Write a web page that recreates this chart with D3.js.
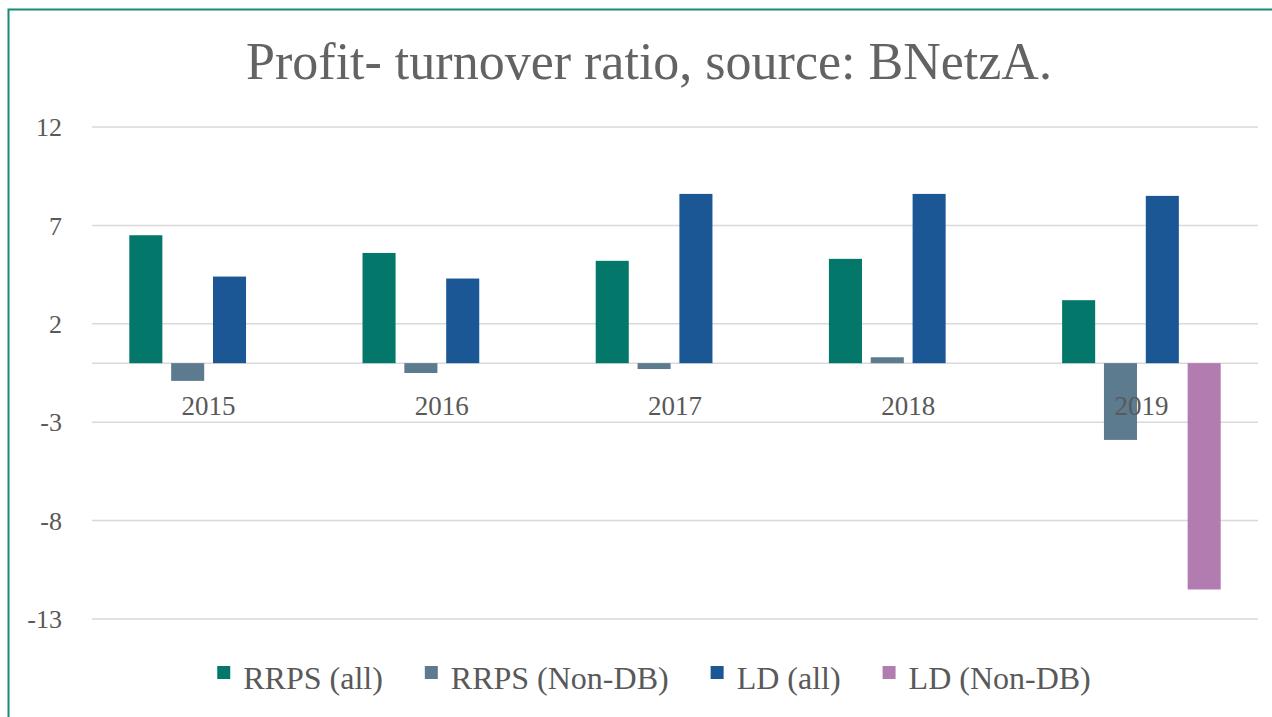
<!DOCTYPE html>
<html>
<head>
<meta charset="utf-8">
<script src="https://cdn.jsdelivr.net/npm/d3@7"></script>
<style>
  html, body { margin: 0; padding: 0; background: #fff; }
  svg { display: block; }
</style>
</head>
<body>
<svg id="chart" width="1272" height="717"></svg>
<script>
const years = ["2015", "2016", "2017", "2018", "2019"];
const seriesNames = ["RRPS (all)", "RRPS (Non-DB)", "LD (all)", "LD (Non-DB)"];
const seriesColors = ["#03786A", "#5C7B8F", "#1B5795", "#B37CB0"];
const rrpsAll = [6.5, 5.6, 5.2, 5.3, 3.2];
const rrpsNonDb = [-0.9, -0.5, -0.3, 0.3, -3.9];
const ldAll = [4.4, 4.3, 8.6, 8.6, 8.5];
const ldNonDb = [null, null, null, null, -11.5];
const yTicks = [-13, -8, -3, 2, 7, 12];

const values = [rrpsAll, rrpsNonDb, ldAll, ldNonDb];
const svg = d3.select("#chart");
const font = "'Liberation Serif', 'DejaVu Serif', serif";

// frame
svg.append("rect").attr("x", 8.5).attr("y", 9.5).attr("width", 1300).attr("height", 750)
   .attr("fill", "none").attr("stroke", "#178B7B").attr("stroke-width", 2);

// title
svg.append("text").attr("x", 649).attr("y", 79).attr("text-anchor", "middle")
   .style("font-family", font).style("font-size", "52px").attr("fill", "#636363")
   .text("Profit- turnover ratio, source: BNetzA.");

const x = d3.scaleBand().domain(years).range([92, 1258]).paddingInner(0.32).paddingOuter(0.16);
const xs = d3.scaleBand().domain(seriesNames).range([0, x.bandwidth()]).paddingInner(0.21);
const y = d3.scaleLinear().domain([-13, 12]).range([619, 127]);

// grid
svg.append("g").selectAll("line").data(yTicks.concat([0])).join("line")
   .attr("x1", 92).attr("x2", 1258).attr("y1", d => y(d)).attr("y2", d => y(d))
   .attr("stroke", "#d9d9d9").attr("stroke-width", 1.5);

// y labels
svg.append("g").selectAll("text").data(yTicks).join("text")
   .attr("x", 62).attr("y", d => y(d)).attr("dy", "0.35em").attr("text-anchor", "end")
   .style("font-family", font).style("font-size", "26px").attr("fill", "#595959")
   .text(d => d);

// bars
values.forEach((vals, si) => {
  const rows = years.map((yr, i) => ({ yr, v: vals[i] })).filter(d => d.v !== null);
  svg.append("g").selectAll("rect").data(rows).join("rect")
     .attr("x", d => x(d.yr) + xs(seriesNames[si]))
     .attr("width", xs.bandwidth())
     .attr("y", d => y(Math.max(0, d.v)))
     .attr("height", d => Math.abs(y(d.v) - y(0)))
     .attr("fill", seriesColors[si]);
});

// category labels
svg.append("g").selectAll("text").data(years).join("text")
   .attr("x", d => x(d) + x.bandwidth() / 2).attr("y", 415).attr("text-anchor", "middle")
   .style("font-family", font).style("font-size", "27px").attr("fill", "#595959")
   .text(d => d);

// legend
const legend = svg.append("g");
let lx = 0;
seriesNames.forEach((name, i) => {
  const g = legend.append("g");
  g.append("rect").attr("x", 0).attr("y", -12).attr("width", 13).attr("height", 13).attr("fill", seriesColors[i]);
  const t = g.append("text").attr("x", 26).attr("y", 0).attr("dy", "0.33em")
     .style("font-family", font).style("font-size", "32px").attr("fill", "#595959").text(name);
  const w = 26 + t.node().getComputedTextLength();
  g.attr("transform", `translate(${lx},684)`);
  lx += w + 42;
});
const total = lx - 42;
legend.attr("transform", `translate(${654 - total / 2},-6)`);
</script>
</body>
</html>
